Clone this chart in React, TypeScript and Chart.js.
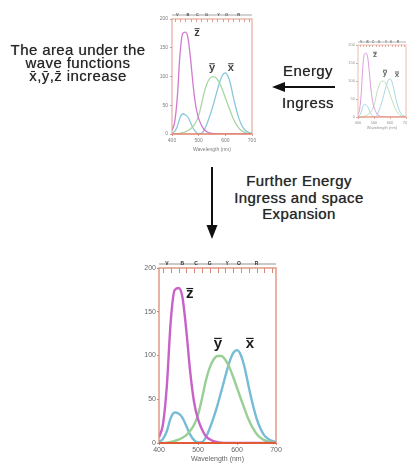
import React, { useEffect, useRef } from "react";
import { Chart, registerables } from "chart.js";

Chart.register(...registerables);

// ---- data (CIE-like colour matching functions, x100) ----
const wavelengths = [400, 410, 420, 430, 440, 450, 460, 470, 480, 490, 500, 510, 520, 530, 540, 550, 560, 570, 580, 590, 600, 610, 620, 630, 640, 650, 660, 670, 680, 690, 700];
const xBar = [1.4, 4.4, 13.4, 28.4, 34.8, 33.6, 29.1, 19.5, 9.6, 3.2, 0.5, 0.9, 6.3, 16.6, 29.0, 43.3, 59.5, 76.2, 91.6, 102.6, 106.2, 100.3, 85.4, 64.2, 44.8, 28.4, 16.5, 8.7, 4.7, 2.3, 1.1];
const yBar = [0.0, 0.1, 0.4, 1.2, 2.3, 3.8, 6.0, 9.1, 13.9, 20.8, 32.3, 50.3, 71.0, 86.2, 95.4, 99.5, 99.5, 95.2, 87.0, 75.7, 63.1, 50.3, 38.1, 26.5, 17.5, 10.7, 6.1, 3.2, 1.7, 0.8, 0.4];
const zBar = [6.5, 20.8, 64.6, 138.6, 174.7, 177.2, 166.9, 128.8, 81.3, 46.5, 27.2, 15.8, 7.8, 4.2, 2.0, 0.9, 0.4, 0.2, 0.2, 0.1, 0.1, 0, 0, 0, 0, 0, 0, 0, 0, 0, 0];
const curveNames = ["z", "y", "x"];
const axisTitle = "Wavelength (nm)";
const bandNames = ["V", "B", "C", "G", "Y", "O", "R"];
const bandCenters = [420, 460, 495, 530, 575, 605, 650];

const textLeft = ["The area under the", "wave functions", "x\u0304,y\u0304,z\u0304 increase"];
const textEnergy = ["Energy", "Ingress"];
const textFurther = ["Further Energy", "Ingress and space", "Expansion"];

const FONT = '"Liberation Sans", Arial, sans-serif';
const zColor = "#c862c8";
const zInner = "#f2cff2";
const yColor = "#98cf94";
const yInner = "#6f8f98";
const xColor = "#76bcd6";
const xInner = "#457d98";
const frameColor = "#d98a74";
const baseColor = "#e05a36";

type Panel = {
  left: number; top: number; width: number; height: number;
  yAxisW: number; xAxisH: number; padTop: number; padRight: number;
  tickFont: number; titleFont: number; tickLen: number; tickPad: number;
  labelFont: number; lineW: number; frameW: number; baseW: number; innerTick: number;
  rulerGap: number; bandFont: number; opacity: number; innerLines: boolean;
  labelPos: { x: number; y: number }[]; // for z, y, x
};

const panels: Panel[] = [
  {
    left: 125, top: 255, width: 160, height: 208,
    yAxisW: 34, xAxisH: 20, padTop: 13, padRight: 9,
    tickFont: 7, titleFont: 7, tickLen: 2, tickPad: 1,
    labelFont: 15, lineW: 2.4, frameW: 1.3, baseW: 2, innerTick: 5,
    rulerGap: 4, bandFont: 5, opacity: 1, innerLines: true,
    labelPos: [{ x: 479, y: 170 }, { x: 551, y: 113 }, { x: 633, y: 113 }],
  },
  {
    left: 150, top: 8, width: 110, height: 145,
    yAxisW: 22, xAxisH: 19, padTop: 11, padRight: 8,
    tickFont: 5, titleFont: 5, tickLen: 2, tickPad: 2,
    labelFont: 11, lineW: 1.3, frameW: 1, baseW: 1.2, innerTick: 3,
    rulerGap: 4, bandFont: 4, opacity: 0.85, innerLines: false,
    labelPos: [{ x: 494, y: 176 }, { x: 550, y: 115 }, { x: 621, y: 115 }],
  },
  {
    left: 340, top: 36, width: 80, height: 94,
    yAxisW: 18, xAxisH: 13, padTop: 9, padRight: 14,
    tickFont: 4, titleFont: 4, tickLen: 2, tickPad: 1,
    labelFont: 8, lineW: 0.9, frameW: 0.8, baseW: 0.9, innerTick: 2,
    rulerGap: 3, bandFont: 3, opacity: 0.7, innerLines: false,
    labelPos: [{ x: 506, y: 172 }, { x: 569, y: 122 }, { x: 644, y: 117 }],
  },
];

function decorPlugin(p: Panel) {
  return {
    id: "decor",
    afterDatasetsDraw(chart: any) {
      const { ctx, chartArea } = chart;
      const { left, right, top, bottom } = chartArea;
      const xs = chart.scales.x;
      const ys = chart.scales.y;
      ctx.save();
      ctx.strokeStyle = frameColor;
      ctx.lineWidth = p.frameW;
      ctx.strokeRect(left, top, right - left, bottom - top);
      const y0 = ys.getPixelForValue(0);
      ctx.strokeStyle = baseColor;
      ctx.lineWidth = p.baseW;
      ctx.beginPath();
      ctx.moveTo(left, y0);
      ctx.lineTo(right, y0);
      ctx.stroke();
      ctx.strokeStyle = frameColor;
      ctx.lineWidth = 1;
      for (let w = 410; w < 700; w += 20) {
        const px = Math.round(xs.getPixelForValue(w)) + 0.5;
        ctx.beginPath();
        ctx.moveTo(px, top);
        ctx.lineTo(px, top + p.innerTick);
        ctx.stroke();
      }
      const ry = top - p.rulerGap;
      ctx.strokeStyle = "#777";
      ctx.lineWidth = 0.8;
      ctx.beginPath();
      ctx.moveTo(left, ry);
      ctx.lineTo(right, ry);
      ctx.stroke();
      ctx.fillStyle = "#333";
      ctx.font = `bold ${p.bandFont}px ${FONT}`;
      ctx.textAlign = "center";
      ctx.textBaseline = "middle";
      bandNames.forEach((b, i) => {
        ctx.fillText(b, xs.getPixelForValue(bandCenters[i]), ry);
      });
      ctx.fillStyle = "#1a1a1a";
      ctx.font = `bold ${p.labelFont}px ${FONT}`;
      ctx.textBaseline = "alphabetic";
      curveNames.forEach((name, i) => {
        const pos = p.labelPos[i];
        const px = xs.getPixelForValue(pos.x);
        const py = ys.getPixelForValue(pos.y);
        const baseY = py + p.labelFont * 0.27;
        ctx.fillText(name, px, baseY);
        const w = ctx.measureText(name).width;
        const barY = baseY - p.labelFont * 0.53 - p.labelFont * 0.16;
        ctx.fillRect(px - w * 0.45, barY, w * 0.9, Math.max(1, p.labelFont * 0.08));
      });
      ctx.restore();
    },
  };
}

function makeConfig(p: Panel): any {
  const ds = (data: number[], color: string, width: number, dash: number[] = []) => ({
    data: wavelengths.map((w, i) => ({ x: w, y: data[i] })),
    borderColor: color,
    borderWidth: width,
    borderDash: dash,
    pointRadius: 0,
    cubicInterpolationMode: "monotone",
    fill: false,
  });
  const datasets: any[] = [ds(zBar, zColor, p.lineW), ds(yBar, yColor, p.lineW), ds(xBar, xColor, p.lineW)];
  if (p.innerLines) {
    datasets.push(ds(zBar, zInner, 0.8), ds(yBar, yInner, 0.8, [2, 2]), ds(xBar, xInner, 0.8, [2, 2]));
  }
  return {
    type: "line",
    data: { datasets },
    options: {
      animation: false,
      responsive: false,
      devicePixelRatio: 1,
      layout: { padding: { top: p.padTop, right: p.padRight, left: 0, bottom: 0 } },
      plugins: { legend: { display: false }, tooltip: { enabled: false } },
      scales: {
        x: {
          type: "linear", min: 400, max: 700,
          ticks: { stepSize: 100, font: { size: p.tickFont, family: FONT }, color: "#666", padding: p.tickPad, maxRotation: 0, autoSkip: false },
          grid: { display: true, drawOnChartArea: false, drawTicks: true, tickLength: p.tickLen, color: frameColor },
          border: { display: false },
          title: { display: true, text: axisTitle, font: { size: p.titleFont, family: FONT }, color: "#666", padding: 0 },
          afterFit: (s: any) => { s.height = p.xAxisH; },
        },
        y: {
          type: "linear", min: 0, max: 200,
          ticks: { stepSize: 50, font: { size: p.tickFont, family: FONT }, color: "#666", padding: p.tickPad },
          grid: { display: true, drawOnChartArea: false, drawTicks: true, tickLength: p.tickLen, color: "#999" },
          border: { display: false },
          afterFit: (s: any) => { s.width = p.yAxisW; },
        },
      },
    },
    plugins: [decorPlugin(p)],
  };
}

function ChartPanel({ p }: { p: Panel }) {
  const ref = useRef<HTMLCanvasElement>(null);
  useEffect(() => {
    const chart = new Chart(ref.current as HTMLCanvasElement, makeConfig(p));
    return () => chart.destroy();
  }, []);
  return (
    <div style={{ position: "absolute", left: p.left, top: p.top, width: p.width, height: p.height, opacity: p.opacity }}>
      <canvas ref={ref} width={p.width} height={p.height} style={{ display: "block", width: p.width, height: p.height }} />
    </div>
  );
}

function TextLines({ lines, cx, tops }: { lines: string[]; cx: number; tops: number[] }) {
  return (
    <>
      {lines.map((t, i) => (
        <div key={i} style={{
          position: "absolute", left: cx - 100, width: 200, top: tops[i], textAlign: "center",
          font: `15px ${FONT}`, lineHeight: "15px", letterSpacing: "0.4px", color: "#262626",
          textShadow: "0 0 0.8px #666", whiteSpace: "nowrap",
        }}>{t}</div>
      ))}
    </>
  );
}

export default function App() {
  return (
    <div style={{ position: "absolute", left: 0, top: 0, width: 407, height: 463, overflow: "hidden", background: "#fff" }}>
      {panels.map((p, i) => <ChartPanel key={i} p={p} />)}
      <TextLines lines={textLeft} cx={78} tops={[42, 55, 67.5]} />
      <TextLines lines={textEnergy} cx={308} tops={[63, 95]} />
      <TextLines lines={textFurther} cx={299} tops={[173, 190, 206]} />
      <svg width={407} height={463} style={{ position: "absolute", left: 0, top: 0, pointerEvents: "none" }}>
        <line x1={335} y1={87} x2={282} y2={87} stroke="#111" strokeWidth={2} />
        <polygon points="272,87 285,82 285,92" fill="#111" />
        <line x1={212} y1={167} x2={212} y2={228} stroke="#111" strokeWidth={2} />
        <polygon points="212,239 206.5,225 217.5,225" fill="#111" />
      </svg>
    </div>
  );
}
